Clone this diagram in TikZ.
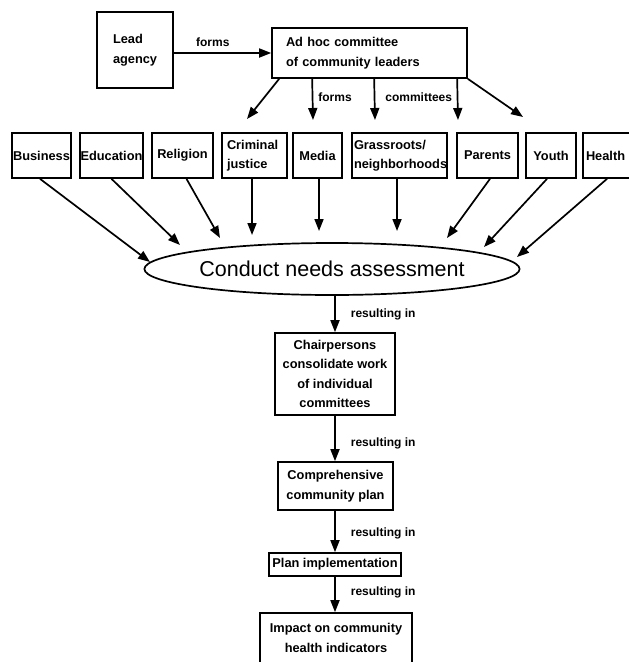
\documentclass[tikz,border=0pt]{standalone}
\usepackage{fontspec}
\setmainfont{Liberation Sans}
\usetikzlibrary{arrows.meta,shapes.geometric,calc}
\begin{document}
\begin{tikzpicture}[x=1pt,y=-1pt,
  box/.style={draw, line width=1.7pt, inner sep=0pt, align=center, font=\bfseries\fontsize{12.8}{19.5}\selectfont},
  rowbox/.style={box, minimum height=45pt},
  lbl/.style={font=\bfseries\fontsize{12}{14}\selectfont, inner sep=1pt},
  arr/.style={line width=1.7pt, -{Triangle[length=12pt,width=9pt]}}]
\useasboundingbox (0,0) rectangle (629,662);

% top
\node[box, align=left, text width=44pt, inner xsep=16pt, minimum height=76pt] (lead) at (135,50) {Lead\\agency};
\node[box, align=left, text width=167pt, inner xsep=14pt, minimum height=50pt] (adhoc) at (369.5,53) {Ad hoc committee\\of community leaders};

% row of committees
\node[rowbox, minimum width=59pt] (bus) at (41.5,155.5) {Business};
\node[rowbox, minimum width=63pt] (edu) at (111.5,155.5) {Education};
\node[rowbox, minimum width=61pt] (rel) at (182.5,155.5) {Religion};
\node[rowbox, align=left, text width=55pt, inner xsep=5pt] (crim) at (254.5,155.5) {Criminal\\justice};
\node[rowbox, minimum width=49pt] (med) at (317.5,155.5) {Media};
\node[rowbox, align=left, text width=91pt, inner xsep=2pt] (gra) at (399.5,155.5) {Grassroots/\\neighborhoods};
\node[rowbox, minimum width=61pt] (par) at (487.5,155.5) {Parents};
\node[rowbox, minimum width=50pt] (you) at (551,155.5) {Youth};
\node[rowbox, align=left, text width=51pt, inner xsep=3pt] (hea) at (611.5,155.5) {Health};

% ellipse
\node[draw, ellipse, line width=1.7pt, minimum width=360pt, minimum height=52pt, inner sep=0pt,
  font=\fontsize{21.5}{25}\selectfont] (cna) at (332,269) {Conduct needs assessment};

% chain
\node[box, minimum width=120pt, minimum height=82pt] (chair) at (335,374) {Chairpersons\\consolidate work\\of individual\\committees};
\node[box, minimum width=115pt, minimum height=48pt] (comp) at (335.5,486) {Comprehensive\\community plan};
\node[box, minimum width=132pt, minimum height=23pt] (plan) at (335,564.5) {Plan implementation};
\node[box, minimum width=152pt, minimum height=50pt] (imp) at (336,638) {Impact on community\\health indicators};

% coordinates for free arrow ends
\coordinate (t1) at (247,119);
\coordinate (t2) at (313,120);
\coordinate (t3) at (375,120);
\coordinate (t4) at (458,120);
\coordinate (t5) at (523,117);

\coordinate (e1) at (150,262);
\coordinate (e2) at (180,245);
\coordinate (e3) at (220,238);
\coordinate (e4) at (252,235);
\coordinate (e5) at (319,231);
\coordinate (e6) at (397,231);
\coordinate (e7) at (447,238);
\coordinate (e8) at (484,247);
\coordinate (e9) at (517,257);

% lead -> adhoc
\draw[arr] (lead.east |- adhoc.west) -- node[lbl, above=5pt, pos=0.4] (lf) {forms} (adhoc.west);

% adhoc -> committees
\draw[arr] ($(adhoc.south west)+(8,0)$) -- (t1);
\draw[arr] ($(adhoc.south west)+(41,0)$) -- node[lbl, right=4pt, pos=0.45] (lf2) {forms} (t2);
\draw[arr] ($(adhoc.south west)+(103,0)$) -- node[lbl, right=9pt, pos=0.45] (lc) {committees} (t3);
\draw[arr] ($(adhoc.south west)+(186,0)$) -- (t4);
\draw[arr] (adhoc.south east) -- (t5);

% committees -> ellipse
\draw[arr] ([xshift=-1.5pt]bus.south) -- (e1);
\draw[arr] (edu.south) -- (e2);
\draw[arr] ([xshift=4pt]rel.south) -- (e3);
\draw[arr] (crim.south -| e4) -- (e4);
\draw[arr] (med.south -| e5) -- (e5);
\draw[arr] (gra.south -| e6) -- (e6);
\draw[arr] ([xshift=2.5pt]par.south) -- (e7);
\draw[arr] ([xshift=-4pt]you.south) -- (e8);
\draw[arr] ([xshift=-4.5pt]hea.south) -- (e9);

% chain arrows
\draw[arr] (cna.south -| chair.north) -- node[lbl, right=14pt] (r1) {resulting in} (chair.north);
\draw[arr] (chair.south) -- node[lbl, right=14pt, pos=0.6] (r2) {resulting in} (comp.north -| chair.south);
\draw[arr] (comp.south -| chair.south) -- node[lbl, right=14pt, pos=0.55] (r3) {resulting in} (plan.north);
\draw[arr] (plan.south) -- node[lbl, right=14pt, pos=0.45] (r4) {resulting in} (imp.north -| plan.south);
\end{tikzpicture}
\end{document}
